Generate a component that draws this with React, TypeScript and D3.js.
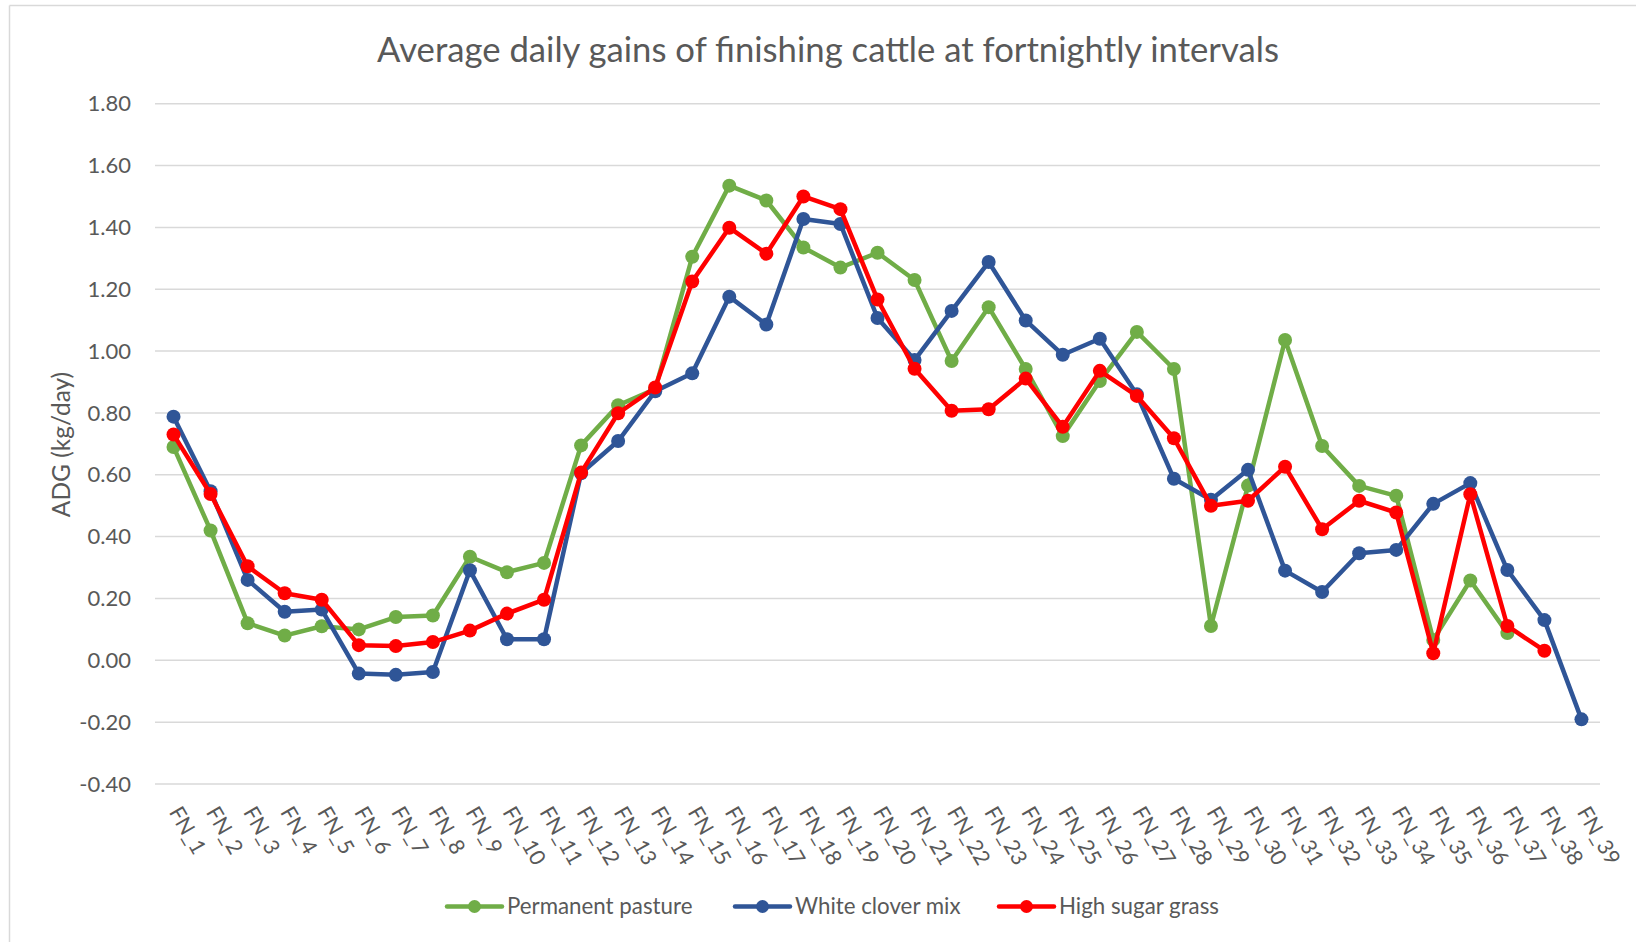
import React from "react";
import * as d3 from "d3";

const categories = [
  "FN_1","FN_2","FN_3","FN_4","FN_5","FN_6","FN_7","FN_8","FN_9","FN_10",
  "FN_11","FN_12","FN_13","FN_14","FN_15","FN_16","FN_17","FN_18","FN_19","FN_20",
  "FN_21","FN_22","FN_23","FN_24","FN_25","FN_26","FN_27","FN_28","FN_29","FN_30",
  "FN_31","FN_32","FN_33","FN_34","FN_35","FN_36","FN_37","FN_38","FN_39",
];

const permanentPasture = [
  0.69, 0.42, 0.12, 0.08, 0.11, 0.1, 0.14, 0.145, 0.335, 0.285,
  0.315, 0.695, 0.825, 0.877, 1.305, 1.535, 1.487, 1.335, 1.27, 1.318,
  1.23, 0.968, 1.142, 0.942, 0.725, 0.903, 1.062, 0.942, 0.111, 0.565,
  1.036, 0.693, 0.564, 0.532, 0.066, 0.258, 0.088,
];

const whiteCloverMix = [
  0.788, 0.547, 0.26, 0.157, 0.164, -0.043, -0.047, -0.038, 0.291, 0.068,
  0.068, 0.605, 0.709, 0.87, 0.928, 1.176, 1.086, 1.427, 1.411, 1.107,
  0.971, 1.13, 1.288, 1.099, 0.988, 1.04, 0.86, 0.587, 0.519, 0.616,
  0.29, 0.221, 0.346, 0.357, 0.506, 0.573, 0.292, 0.13, -0.191,
];

const highSugarGrass = [
  0.73, 0.538, 0.304, 0.217, 0.196, 0.049, 0.046, 0.059, 0.096, 0.151,
  0.196, 0.607, 0.799, 0.882, 1.225, 1.399, 1.315, 1.5, 1.459, 1.167,
  0.943, 0.807, 0.812, 0.911, 0.755, 0.936, 0.855, 0.718, 0.5, 0.516,
  0.626, 0.424, 0.516, 0.478, 0.023, 0.537, 0.111, 0.031,
];

const yTicks = [-0.4, -0.2, 0, 0.2, 0.4, 0.6, 0.8, 1.0, 1.2, 1.4, 1.6, 1.8];

const seriesNames = ["Permanent pasture", "White clover mix", "High sugar grass"];
const seriesColors = ["#70AD47", "#2F5597", "#FF0000"];
const seriesData = [permanentPasture, whiteCloverMix, highSugarGrass];

const FONT = "Lato, 'Open Sans', sans-serif";
const TEXT = "#595959";

export default function App() {
  const W = 1636;
  const H = 942;
  const x = d3.scaleBand<string>().domain(categories).range([155, 1600]).padding(0);
  const y = d3.scaleLinear().domain([-0.4, 1.8]).range([784, 103.7]);
  const cx = (c: string) => (x(c) as number) + x.bandwidth() / 2;

  const line = d3
    .line<number>()
    .x((_, i) => cx(categories[i]))
    .y((d) => y(d));

  const legendX = [447, 735, 999];
  const legendY = 906.5;

  return (
    <svg
      width={W}
      height={H}
      style={{ position: "absolute", left: 0, top: 0, background: "#fff" }}
      fontFamily={FONT}
    >
      <rect x={0} y={0} width={W} height={H} fill="#fff" />
      <line x1={9.5} y1={5.5} x2={W} y2={5.5} stroke="#D9D9D9" strokeWidth={1.5} />
      <line x1={9.5} y1={5.5} x2={9.5} y2={H} stroke="#D9D9D9" strokeWidth={1.5} />

      <text x={828} y={62} textAnchor="middle" fontSize={34.7} fill={TEXT}>
        Average daily gains of finishing cattle at fortnightly intervals
      </text>

      {yTicks.map((t) => (
        <g key={t}>
          <line x1={155} x2={1600} y1={y(t)} y2={y(t)} stroke="#D9D9D9" strokeWidth={1.5} />
          <text x={131} y={y(t)} dy="0.35em" textAnchor="end" fontSize={22} fill={TEXT}>
            {t.toFixed(2)}
          </text>
        </g>
      ))}

      <text
        transform={`translate(70,444.5) rotate(-90)`}
        textAnchor="middle"
        fontSize={24.5}
        fill={TEXT}
      >
        ADG (kg/day)
      </text>

      {categories.map((c) => (
        <text
          key={c}
          transform={`translate(${cx(c) - 5},812) rotate(60)`}
          textAnchor="start"
          fontSize={21.5}
          fill={TEXT}
        >
          {c}
        </text>
      ))}

      {seriesData.map((data, si) => (
        <g key={si}>
          <path
            d={line(data) || ""}
            fill="none"
            stroke={seriesColors[si]}
            strokeWidth={4.5}
            strokeLinejoin="round"
            strokeLinecap="round"
          />
          {data.map((v, i) => (
            <circle key={i} cx={cx(categories[i])} cy={y(v)} r={7} fill={seriesColors[si]} />
          ))}
        </g>
      ))}

      {seriesNames.map((n, i) => (
        <g key={n}>
          <line
            x1={legendX[i]}
            x2={legendX[i] + 55}
            y1={legendY}
            y2={legendY}
            stroke={seriesColors[i]}
            strokeWidth={4.5}
            strokeLinecap="round"
          />
          <circle cx={legendX[i] + 27.5} cy={legendY} r={6.5} fill={seriesColors[i]} />
          <text x={legendX[i] + 60} y={legendY} dy="0.35em" fontSize={22.3} fill={TEXT}>
            {n}
          </text>
        </g>
      ))}
    </svg>
  );
}
